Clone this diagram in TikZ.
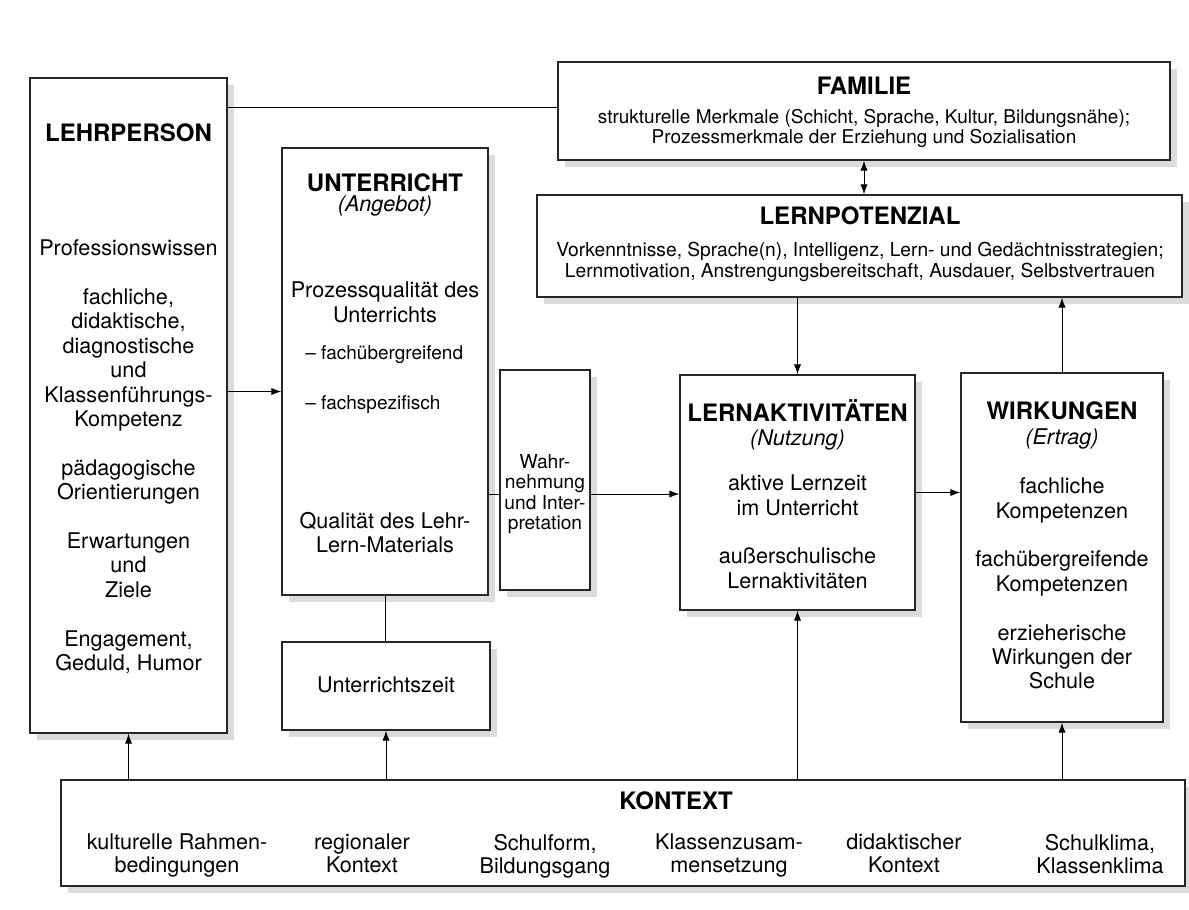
\documentclass[tikz,border=0pt]{standalone}
\usepackage{fontspec}
\setmainfont{TeX Gyre Heros}
\usetikzlibrary{arrows.meta,shadows}
\tikzset{
	kasten/.style={draw=black!85, line width=0.6pt, fill=white, inner sep=0pt,
		drop shadow={shadow xshift=3.5pt, shadow yshift=-3.5pt, fill=black!28}},
	titel/.style={font=\fontsize{12}{14}\selectfont\bfseries, anchor=base},
	unter/.style={font=\fontsize{10.8}{12.2}\selectfont\itshape, anchor=base},
	inhalt/.style={font=\fontsize{10.8}{12.2}\selectfont, align=center, anchor=north, inner sep=0pt},
	klein/.style={font=\fontsize{9.5}{10.2}\selectfont, align=center, anchor=north, inner sep=0pt},
	pfeil/.style={-{Latex[length=5pt,width=3.6pt]}, line width=0.5pt},
	linie/.style={line width=0.5pt},
}

\begin{document}
\begin{tikzpicture}[x=0.5pt, y=-0.5pt]
			%%%%% START %%%%%
			\useasboundingbox (0,0) rectangle (1189,910);
			
			\node[kasten, minimum width=98.5pt, minimum height=327.5pt] (lehr) at (128.5,405.5) {};
			\node[kasten, minimum width=103pt, minimum height=223.5pt] (unt) at (385,371.5) {};
			\node[kasten, minimum width=104pt, minimum height=44pt] (zeit) at (386,686) {};
			\node[kasten, minimum width=45pt, minimum height=110pt] (wahr) at (545,480) {};
			\node[kasten, minimum width=306pt, minimum height=49pt] (fam) at (864,111) {};
			\node[kasten, minimum width=322.5pt, minimum height=51pt] (pot) at (859.5,246) {};
			\node[kasten, minimum width=117.5pt, minimum height=117.5pt] (akt) at (797.5,492.5) {};
			\node[kasten, minimum width=101pt, minimum height=174.5pt] (wirk) at (1062,547.5) {};
			\node[kasten, minimum width=562pt, minimum height=53pt] (kon) at (623,833) {};
			
			\node[titel] (lehrT) at (128.5,141) {LEHRPERSON};
			\node[inhalt] (lehrI) at (128.5,239.5) {Professionswissen\\[12.2pt] fachliche,\\ didaktische,\\ diagnostische\\ und\\ Klassenführungs-\\ Kompetenz\\[12.2pt] pädagogische\\ Orientierungen\\[12.2pt] Erwartungen\\ und\\ Ziele\\[12.2pt] Engagement,\\ Geduld, Humor};
			
			\node[titel] (untT) at (385,191) {UNTERRICHT};
			\node[unter] (untU) at (385,211) {(Angebot)};
			\node[inhalt] (untP) at (385,281.5) {Prozessqualität des\\ Unterrichts};
			\node[klein, anchor=base west] (untA) at (305,359) {– fachübergreifend};
			\node[klein, anchor=base west] (untB) at (305,409) {– fachspezifisch};
			\node[inhalt] (untQ) at (385,511.5) {Qualität des Lehr-\\ Lern-Materials};
			
			\node[inhalt] (zeitI) at (386,676.5) {Unterrichtszeit};
			\node[klein, font=\fontsize{9.6}{10.15}\selectfont] (wahrI) at (545,454) {Wahr-\\ nehmung\\ und Inter-\\ pretation};
			
			\node[titel] (famT) at (864,94) {FAMILIE};
			\node[klein, font=\fontsize{9.5}{10}\selectfont] (famI) at (864,109) {strukturelle Merkmale (Schicht, Sprache, Kultur, Bildungsnähe);\\ Prozessmerkmale der Erziehung und Sozialisation};
			
			\node[titel] (potT) at (860,224) {LERNPOTENZIAL};
			\node[klein, font=\fontsize{9.6}{10.5}\selectfont] (potI) at (860,242) {Vorkenntnisse, Sprache(n), Intelligenz, Lern- und Gedächtnisstrategien;\\ Lernmotivation, Anstrengungsbereitschaft, Ausdauer, Selbstvertrauen};
			
			\node[titel] (aktT) at (797.5,421) {LERNAKTIVITÄTEN};
			\node[unter] (aktU) at (797.5,445) {(Nutzung)};
			\node[inhalt] (aktI) at (797.5,474.5) {aktive Lernzeit\\ im Unterricht\\[12.2pt] außerschulische\\ Lernaktivitäten};
			
			\node[titel] (wirkT) at (1062,419) {WIRKUNGEN};
			\node[unter] (wirkU) at (1062,444) {(Ertrag)};
			\node[inhalt] (wirkI) at (1062,477.5) {fachliche\\ Kompetenzen\\[12.2pt] fachübergreifende\\ Kompetenzen\\[12.2pt] erzieherische\\ Wirkungen der\\ Schule};
			
			\node[titel] (konT) at (676,809) {KONTEXT};
			\node[inhalt, font=\fontsize{10.8}{11.5}\selectfont] (kon1) at (177,833.5) {kulturelle Rahmen-\\ bedingungen};
			\node[inhalt, font=\fontsize{10.8}{11.5}\selectfont] (kon2) at (362,833.5) {regionaler\\ Kontext};
			\node[inhalt, font=\fontsize{10.8}{11.5}\selectfont] (kon3) at (545,833.5) {Schulform,\\ Bildungsgang};
			\node[inhalt, font=\fontsize{10.8}{11.5}\selectfont] (kon4) at (729,833.5) {Klassenzusam-\\ mensetzung};
			\node[inhalt, font=\fontsize{10.8}{11.5}\selectfont] (kon5) at (904,833.5) {didaktischer\\ Kontext};
			\node[inhalt, font=\fontsize{10.8}{11.5}\selectfont] (kon6) at (1100,833.5) {Schulklima,\\ Klassenklima};
			
			\draw[linie] ([yshift=2pt]fam.west) -- ([yshift=2pt]fam.west -| lehr.east);
			\draw[{Latex[length=5pt,width=3.6pt]}-{Latex[length=5pt,width=3.6pt]}, line width=0.5pt] (fam.south) -- (fam.south |- pot.north);
			\draw[pfeil] ([yshift=7pt]lehr.east) -- ([yshift=7pt]lehr.east -| unt.west);
			\draw[linie] (unt.south) -- (unt.south |- zeit.north);
			\draw[linie] ([yshift=-7pt]wahr.west -| unt.east) -- ([yshift=-7pt]wahr.west);
			\draw[pfeil] ([yshift=-7pt]wahr.east) -- ([yshift=-7pt]wahr.east -| akt.west);
			\draw[pfeil] (akt.north |- pot.south) -- (akt.north);
			\draw[pfeil] (akt.east) -- (akt.east -| wirk.west);
			\draw[pfeil] (wirk.north) -- (wirk.north |- pot.south);
			
			\draw[pfeil] (lehr.south |- kon.north) -- (lehr.south);
			\draw[pfeil] (zeit.south |- kon.north) -- (zeit.south);
			\draw[pfeil] (akt.south |- kon.north) -- (akt.south);
			\draw[pfeil] (wirk.south |- kon.north) -- (wirk.south);
			
			%%%%% END %%%%%
\end{tikzpicture}
\end{document}
